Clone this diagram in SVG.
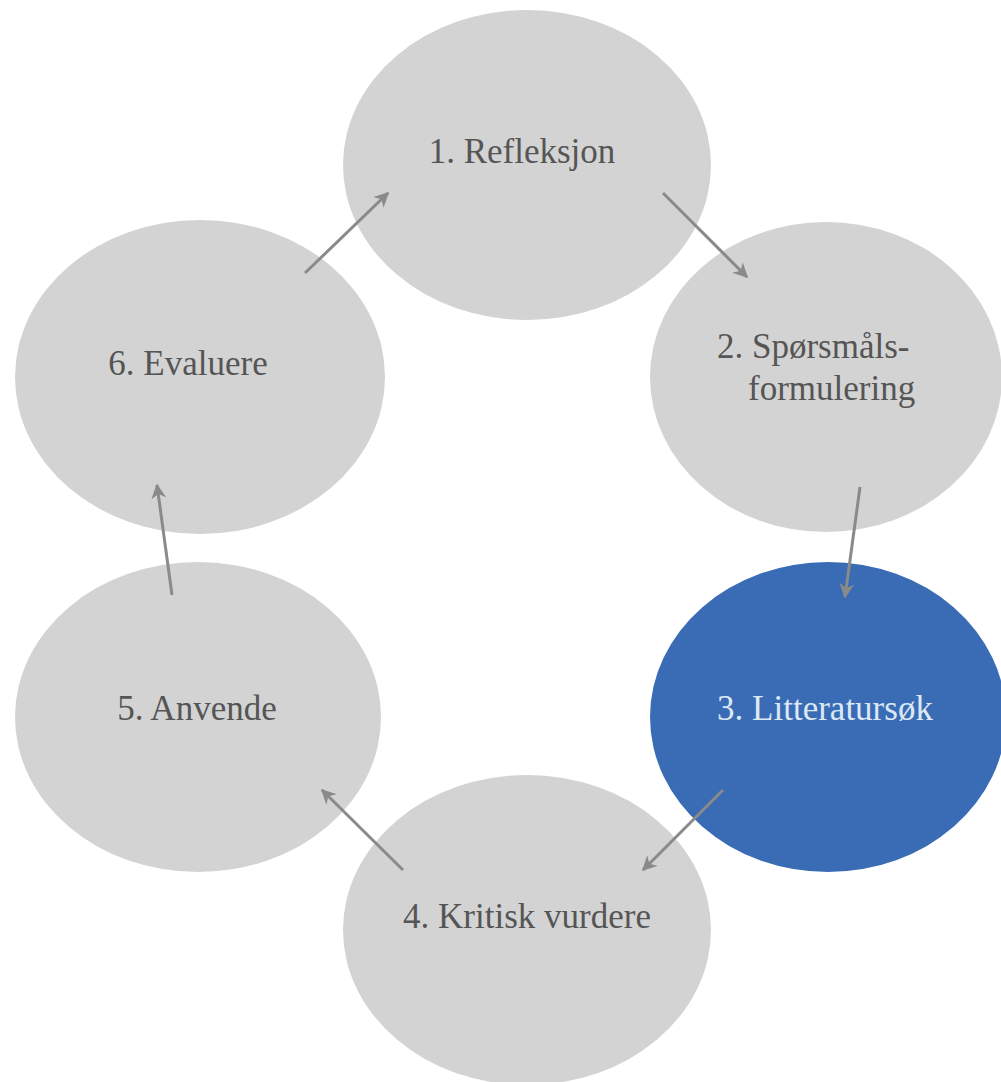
<svg xmlns="http://www.w3.org/2000/svg" width="1001" height="1082" viewBox="0 0 1001 1082">
<style>
.n{fill:#d3d3d3}
.b{fill:#3a6cb6}
.t{font-family:"Liberation Serif","DejaVu Serif",serif;font-size:35px;fill:#555555}
.tw{font-family:"Liberation Serif","DejaVu Serif",serif;font-size:35px;fill:#dce8f4}
.c{stroke:#8a8a8a;stroke-width:3;fill:none;marker-end:url(#ah)}
</style>
<defs>
<marker id="ah" viewBox="0 0 10 10" refX="9" refY="5" markerWidth="5" markerHeight="5" orient="auto" markerUnits="strokeWidth">
<path d="M0,0 L10,5 L0,10 L3,5 Z" fill="#8a8a8a"/>
</marker>
</defs>
<rect width="1001" height="1082" fill="#ffffff"/>
<g id="node1"><ellipse class="n" cx="527" cy="165" rx="184" ry="155"/><text class="t" x="522" y="163" text-anchor="middle">1. Refleksjon</text></g>
<g id="node2"><ellipse class="n" cx="826" cy="377" rx="176" ry="155"/><text class="t" x="717" y="358">2. Spørsmåls-</text><text class="t" x="748" y="400">formulering</text></g>
<g id="node3"><ellipse class="b" cx="828" cy="717" rx="178" ry="155"/><text class="tw" x="825" y="720" text-anchor="middle">3. Litteratursøk</text></g>
<g id="node4"><ellipse class="n" cx="527" cy="930" rx="184" ry="155"/><text class="t" x="527" y="928" text-anchor="middle">4. Kritisk vurdere</text></g>
<g id="node5"><ellipse class="n" cx="198" cy="717" rx="183" ry="155"/><text class="t" x="197" y="720" text-anchor="middle">5. Anvende</text></g>
<g id="node6"><ellipse class="n" cx="200" cy="377" rx="185" ry="157"/><text class="t" x="188" y="375" text-anchor="middle">6. Evaluere</text></g>
<g id="connectors">
<line class="c" x1="305" y1="273" x2="388" y2="193"/>
<line class="c" x1="663" y1="193" x2="747" y2="277"/>
<line class="c" x1="860" y1="487" x2="845" y2="597"/>
<line class="c" x1="723" y1="790" x2="643" y2="870"/>
<line class="c" x1="403" y1="870" x2="322" y2="790"/>
<line class="c" x1="172" y1="595" x2="157" y2="485"/>
</g>
</svg>
